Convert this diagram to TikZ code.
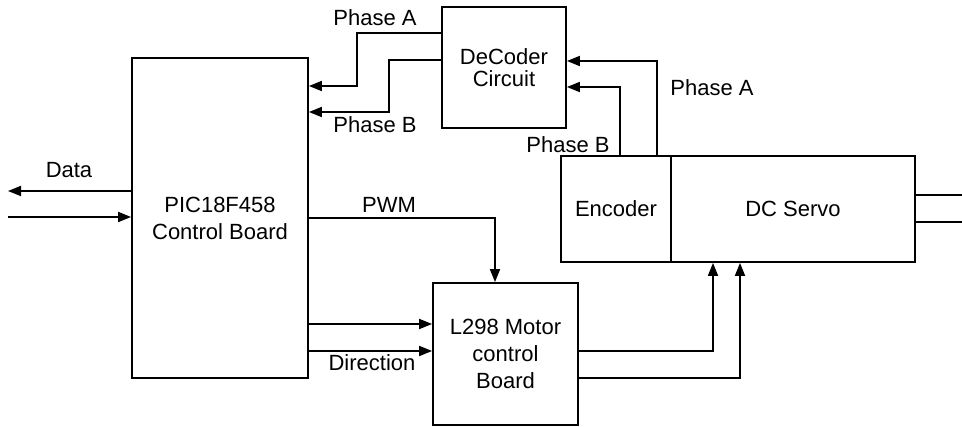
\documentclass[tikz,border=0pt]{standalone}
\usepackage{fontspec}
\setmainfont{Liberation Sans}
\usetikzlibrary{arrows.meta}
\begin{document}
\begin{tikzpicture}[x=1pt,y=-1pt,
  every node/.style={font=\fontsize{22}{27}\selectfont},
  box/.style={draw,line width=1.8pt,inner sep=0pt,align=center},
  lbl/.style={inner sep=0pt,anchor=center},
  wire/.style={line width=1.8pt},
  arr/.style={wire,-{Triangle[length=13pt,width=10pt]}}]
\useasboundingbox (0,0) rectangle (962,427);
% boxes
\node[box,minimum width=176,minimum height=320] (pic) at (220,218) {PIC18F458\\Control Board};
\node[box,minimum width=124,minimum height=121,font=\fontsize{22}{22}\selectfont] (dec) at (504,67.5) {DeCoder\\Circuit};
\node[box,minimum width=145,minimum height=142] (drv) at (505.5,354) {L298 Motor\\control\\Board};
\node[box,minimum width=110,minimum height=106] (enc) at (616,209) {Encoder};
\node[box,minimum width=244,minimum height=106] (srv) at (793,209) {DC Servo};
% helper coordinates
\coordinate (dout) at (8,191);
\coordinate (din) at (8,217);
\coordinate (pa1) at (357,33);
\coordinate (pa2) at (357,86);
\coordinate (pb1) at (389,60);
\coordinate (pb2) at (389,112);
\coordinate (ea) at (657,61);
\coordinate (eb) at (620,87);
\coordinate (pw) at (495,218);
\coordinate (c1) at (0,324);
\coordinate (c2) at (0,351);
\coordinate (o1) at (713,351);
\coordinate (o2) at (740,378);
\coordinate (s1) at (962,195);
\coordinate (s2) at (962,222);
% connectors
\draw[arr] (pic.west |- dout) -- (dout);
\draw[arr] (din) -- (pic.west |- din);
\draw[arr] (dec.west |- pa1) -- (pa1) -- (pa2) -- (pic.east |- pa2);
\draw[arr] (dec.west |- pb1) -- (pb1) -- (pb2) -- (pic.east |- pb2);
\draw[arr] (ea |- enc.north) -- (ea) -- (dec.east |- ea);
\draw[arr] (eb |- enc.north) -- (eb) -- (dec.east |- eb);
\draw[arr] (pic.east |- pw) -- (pw) -- (pw |- drv.north);
\draw[arr] (pic.east |- c1) -- (drv.west |- c1);
\draw[arr] (pic.east |- c2) -- (drv.west |- c2);
\draw[arr] (drv.east |- o1) -- (o1) -- (o1 |- srv.south);
\draw[arr] (drv.east |- o2) -- (o2) -- (o2 |- srv.south);
\draw[wire] (srv.east |- s1) -- (s1);
\draw[wire] (srv.east |- s2) -- (s2);
% labels
\node[lbl] (lda) at (69,170) {Data};
\node[lbl] (lpa) at (375,18) {Phase A};
\node[lbl] (lpb) at (375,125) {Phase B};
\node[lbl] (lpa2) at (712,88) {Phase A};
\node[lbl] (lpb2) at (568,145) {Phase B};
\node[lbl] (lpwm) at (389,205) {PWM};
\node[lbl] (ldir) at (372,363) {Direction};
\end{tikzpicture}
\end{document}
